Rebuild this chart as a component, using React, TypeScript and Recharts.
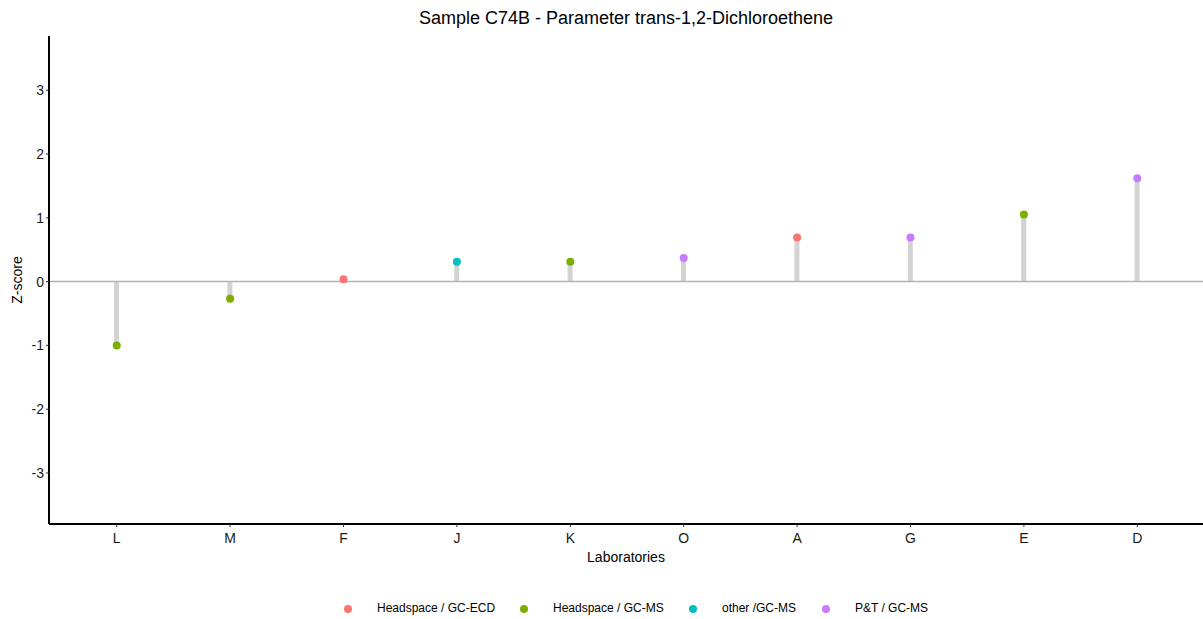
import React from 'react';
import { ComposedChart, Bar, Scatter, XAxis, YAxis, ReferenceLine, Cell } from 'recharts';

const labs = ['L', 'M', 'F', 'J', 'K', 'O', 'A', 'G', 'E', 'D'];
const zScores = [-1.0, -0.27, 0.035, 0.31, 0.31, 0.37, 0.69, 0.69, 1.05, 1.62];
const methods = [
  'Headspace / GC-MS', 'Headspace / GC-MS', 'Headspace / GC-ECD', 'other /GC-MS', 'Headspace / GC-MS',
  'P&T / GC-MS', 'Headspace / GC-ECD', 'P&T / GC-MS', 'Headspace / GC-MS', 'P&T / GC-MS',
];
const methodNames = ['Headspace / GC-ECD', 'Headspace / GC-MS', 'other /GC-MS', 'P&T / GC-MS'];
const methodColors = ['#F8766D', '#7CAE00', '#00BFC4', '#C77CFF'];
const yTicks = [-3, -2, -1, 0, 1, 2, 3];

const data = labs.map((lab, i) => ({ lab, z: zScores[i], method: methods[i] }));
const colorOf = (m: string) => methodColors[methodNames.indexOf(m)];

const font = 'Liberation Sans, Arial, sans-serif';

function YLabel(props: any) {
  const vb = props.viewBox || {};
  const cy = vb.y + vb.height / 2;
  return (
    <text x={17} y={cy} transform={`rotate(-90, 17, ${cy})`} textAnchor="middle" dominantBaseline="central"
      fontSize={14} fill="#000" fontFamily={font}>Z-score</text>
  );
}

export default function App() {
  return (
    <div style={{ position: 'absolute', left: 0, top: 0, width: 1203, height: 619, background: '#fff', fontFamily: font }}>
      <div style={{ position: 'absolute', top: 8, left: 0, width: 1252, textAlign: 'center', fontSize: 18, color: '#000' }}>
        Sample C74B - Parameter trans-1,2-Dichloroethene
      </div>
      <ComposedChart width={1203} height={619} data={data} margin={{ top: 36, right: 0, left: 0, bottom: 51 }}>
        <XAxis dataKey="lab" type="category" padding={{ left: 11, right: 9 }} height={44}
          axisLine={{ stroke: '#000', strokeWidth: 2 }} tickLine={{ stroke: '#333' }} tickSize={3} tickMargin={6}
          tick={{ fill: '#1a1a1a', fontSize: 14, fontFamily: font }}
          label={{ value: 'Laboratories', position: 'insideBottom', offset: 6, fill: '#000', fontSize: 14, fontFamily: font }} />
        <YAxis type="number" domain={[-3.8, 3.85]} ticks={yTicks} allowDataOverflow width={49}
          axisLine={{ stroke: '#000', strokeWidth: 2 }} tickLine={{ stroke: '#333' }} tickSize={3}
          tick={{ fill: '#1a1a1a', fontSize: 14, fontFamily: font }}
          label={<YLabel />} />
        <ReferenceLine y={0} stroke="#b3b3b3" strokeWidth={1.5} />
        <Bar dataKey="z" barSize={5} fill="#d3d3d3" isAnimationActive={false} />
        <Scatter dataKey="z" isAnimationActive={false}
          shape={(p: any) => <circle cx={p.cx} cy={p.cy} r={4} fill={p.fill} />}>
          {data.map((d, i) => <Cell key={i} fill={colorOf(d.method)} />)}
        </Scatter>
      </ComposedChart>
      <div style={{ position: 'absolute', top: 601, left: 0, width: 1203, height: 16, fontSize: 12, color: '#000' }}>
        {methodNames.map((m, i) => {
          const dotX = [348, 524, 693, 826][i];
          return (
            <React.Fragment key={m}>
              <span style={{ position: 'absolute', left: dotX - 4, top: 4, width: 8, height: 8, borderRadius: 4, background: methodColors[i] }} />
              <span style={{ position: 'absolute', left: dotX + 29, top: 0, whiteSpace: 'nowrap' }}>{m}</span>
            </React.Fragment>
          );
        })}
      </div>
    </div>
  );
}
